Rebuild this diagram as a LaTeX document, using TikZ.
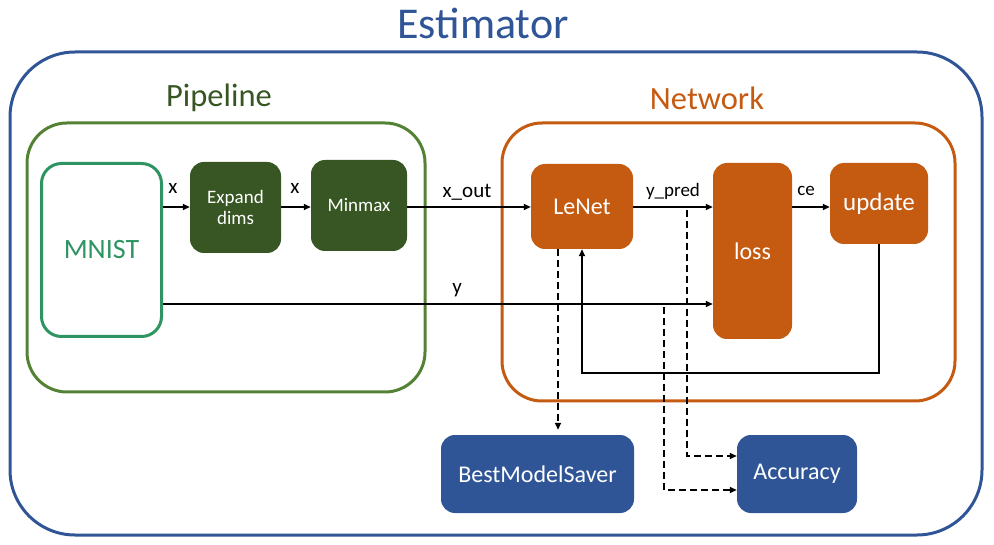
\documentclass[tikz,border=0pt]{standalone}
\usepackage{fontspec}
\setmainfont{Carlito}
\usetikzlibrary{arrows.meta,calc}
\definecolor{eblue}{HTML}{2F5597}
\definecolor{pgreen}{HTML}{548235}
\definecolor{dgreen}{HTML}{375623}
\definecolor{mgreen}{HTML}{2E9462}
\definecolor{norange}{HTML}{C55A11}
\tikzset{
  fbox/.style={rounded corners=14pt, inner sep=0pt, text=white, align=center},
  gbox/.style={fbox, fill=dgreen},
  obox/.style={fbox, fill=norange},
  bbox/.style={fbox, fill=eblue},
  arr/.style={-{Triangle[length=7pt,width=6pt]}, line width=1.8pt},
  darr/.style={arr, dash pattern=on 7pt off 4pt},
  lbl/.style={inner sep=0pt, font=\fontsize{21}{22}\selectfont},
  ttl/.style={inner sep=0pt},
  frame/.style={line width=3pt},
}
\begin{document}
\begin{tikzpicture}[x=1pt,y=-1pt]
\useasboundingbox (0,0) rectangle (994,545);
% containers
\draw[frame, eblue, rounded corners=65pt] (10,52) rectangle (982,535);
\draw[frame, pgreen, rounded corners=40pt] (27,123) rectangle (425,392);
\draw[frame, norange, rounded corners=40pt] (502,123) rectangle (955,401);
% titles
\node[ttl, text=eblue, font=\fontsize{44}{48}\selectfont] (est) at (483,23) {Estimator};
\node[ttl, text=dgreen, font=\fontsize{32.5}{35}\selectfont] (pip) at (219,98) {Pipeline};
\node[ttl, text=norange, font=\fontsize{32.5}{35}\selectfont] (net) at (707,98) {Network};
% boxes
\node[draw=mgreen, line width=3pt, rounded corners=20pt, minimum width=120pt, minimum height=173pt, inner sep=0pt, text=mgreen, font=\fontsize{28}{30}\selectfont] (mnist) at (101.5,250) {MNIST};
\node[gbox, minimum width=91pt, minimum height=91pt, font=\fontsize{19}{21}\selectfont] (expand) at (235.5,207.5) {Expand\\dims};
\node[gbox, minimum width=96pt, minimum height=91pt, font=\fontsize{19}{21}\selectfont] (minmax) at (359,205.5) {Minmax};
\node[obox, minimum width=102pt, minimum height=85pt, font=\fontsize{24}{26}\selectfont] (lenet) at (582,206.5) {LeNet};
\node[obox, minimum width=79pt, minimum height=176pt, font=\fontsize{24}{26}\selectfont] (loss) at (752.5,251) {loss};
\node[obox, minimum width=98pt, minimum height=81pt, font=\fontsize{25}{27}\selectfont] (update) at (879,203.5) {update};
\node[bbox, minimum width=193pt, minimum height=78pt, font=\fontsize{24}{26}\selectfont] (bms) at (537.5,474) {BestModelSaver};
\node[bbox, minimum width=120pt, minimum height=78pt, font=\fontsize{24}{26}\selectfont] (acc) at (797,474) {Accuracy};
% helper coordinates
\coordinate (r1) at (0,207);
\coordinate (r2) at (0,304);
\coordinate (fb) at (0,373);
\coordinate (d1) at (558,0);
\coordinate (d2) at (687,0);
\coordinate (d3) at (664,0);
\coordinate (a1) at (0,456);
\coordinate (a2) at (0,490);
% solid arrows
\draw[arr] (mnist.east |- r1) -- (expand.west |- r1);
\draw[arr] (expand.east |- r1) -- (minmax.west |- r1);
\draw[arr] (minmax.east |- r1) -- (lenet.west |- r1);
\draw[arr] (lenet.east |- r1) -- (loss.west |- r1);
\draw[arr] (loss.east |- r1) -- (update.west |- r1);
\draw[arr] (mnist.east |- r2) -- (loss.west |- r2);
\draw[arr, line width=1.6pt] (update.south) -- (update.south |- fb) -- (lenet.south |- fb) -- (lenet.south);
% dashed arrows
\draw[darr, shorten >=5pt] (lenet.south -| d1) -- (bms.north -| d1);
\draw[darr] ($(d2 |- r1)+(0,3)$) -- (d2 |- a1) -- (acc.west |- a1);
\draw[darr] ($(d3 |- r2)+(0,3)$) -- (d3 |- a2) -- (acc.west |- a2);
% labels
\node[lbl] (lx1) at (173,188) {x};
\node[lbl] (lx2) at (295,188) {x};
\node[lbl, font=\fontsize{21}{22}\selectfont] (lxo) at (467,192) {x\_out};
\node[lbl, font=\fontsize{19}{20}\selectfont] (lyp) at (673,191) {y\_pred};
\node[lbl, font=\fontsize{19}{20}\selectfont] (lce) at (806,191) {ce};
\node[lbl, font=\fontsize{21}{22}\selectfont] (ly) at (457,290) {y};
\end{tikzpicture}
\end{document}
